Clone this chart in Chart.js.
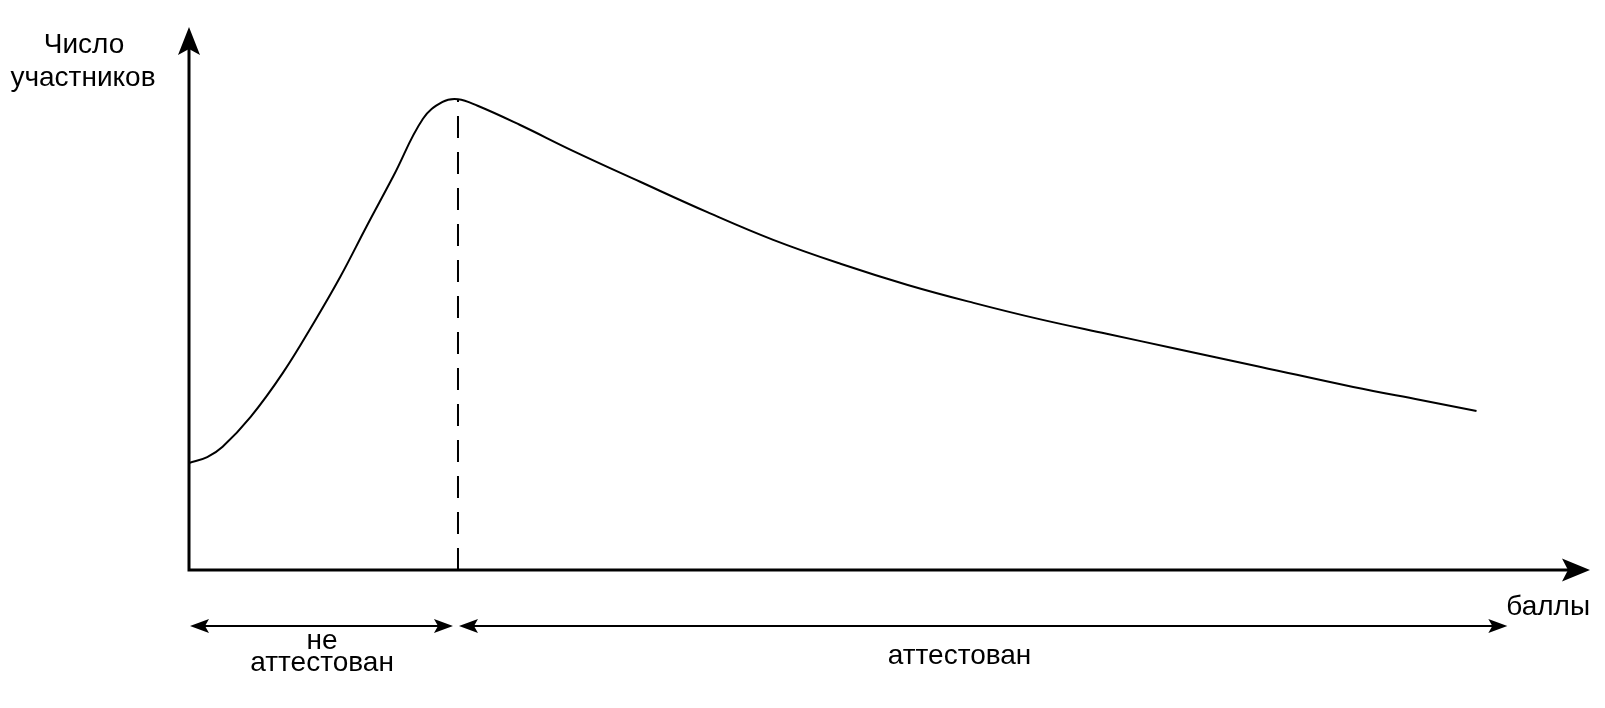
<!DOCTYPE html>
<html>
<head>
<meta charset="utf-8">
<script src="https://cdn.jsdelivr.net/npm/chart.js@4"></script>
<style>
  html, body { margin: 0; padding: 0; background: #fff; }
  #wrap { width: 1605px; height: 708px; position: relative; }
</style>
</head>
<body>
<div id="wrap"><canvas id="grafico"></canvas></div>
<script>
// Datos (unidades arbitrarias)
const scores = [0, 1.3, 2.4, 4.4, 6.7, 8.9, 10.8, 12.7, 14.6, 16.7, 18.1, 19.2, 20.6, 23.6, 27.4, 32.2, 37.0, 41.7, 46.5, 51.3, 56.0, 60.7, 65.5, 70.2, 76.5, 83.1, 87.9, 91.9];
const participants = [19.7, 20.8, 22.7, 28.2, 36.3, 45.5, 54.0, 63.4, 72.6, 83.1, 86.2, 86.7, 85.5, 82.0, 77.2, 71.5, 65.9, 60.8, 56.4, 52.5, 49.2, 46.2, 43.5, 40.9, 37.4, 33.7, 31.3, 29.3];

const passMark = 19.2;      // порог аттестации
const peakValue = 86.7;
const zoneStarts = [0, 19.2];
const zoneEnds = [19.2, 94.1];
const zoneLabelAt = [9.5, 55.0];
const zoneLabels = [["не", "аттестован"], ["аттестован"]];

const yTitle = ["Число", "участников"];
const xTitle = "баллы";

const FONT = "28px 'Liberation Sans', Arial, sans-serif";

// Punta de flecha
function arrowHead(ctx, tipX, tipY, dx, dy, len, half, notch) {
  const bx = tipX - dx * len, by = tipY - dy * len;
  const px = -dy, py = dx;
  ctx.beginPath();
  ctx.moveTo(tipX, tipY);
  ctx.lineTo(bx + px * half, by + py * half);
  ctx.lineTo(tipX - dx * (len - notch), tipY - dy * (len - notch));
  ctx.lineTo(bx - px * half, by - py * half);
  ctx.closePath();
  ctx.fill();
}

const decor = {
  id: "decor",
  afterDraw(chart) {
    const ctx = chart.ctx;
    const a = chart.chartArea;
    const xs = chart.scales.x;
    ctx.save();
    ctx.fillStyle = "#000";
    ctx.strokeStyle = "#000";

    // Ejes
    ctx.lineWidth = 3;
    ctx.beginPath();
    ctx.moveTo(a.left, a.bottom + 1.5);
    ctx.lineTo(a.left, a.top + 22);
    ctx.moveTo(a.left - 1.5, a.bottom);
    ctx.lineTo(a.right - 22, a.bottom);
    ctx.stroke();
    arrowHead(ctx, a.left, a.top, 0, -1, 28, 11, 6);
    arrowHead(ctx, a.right, a.bottom, 1, 0, 28, 11.5, 6);

    // Títulos de ejes
    ctx.font = FONT;
    ctx.textBaseline = "alphabetic";
    ctx.textAlign = "center";
    ctx.fillText(yTitle[0], 84, 53);
    ctx.fillText(yTitle[1], 83, 86);
    ctx.textAlign = "right";
    ctx.fillText(xTitle, a.right, a.bottom + 45);

    // Zonas
    const yArrow = a.bottom + 56;
    ctx.lineWidth = 2;
    ctx.textAlign = "center";
    zoneStarts.forEach((s, i) => {
      const x1 = xs.getPixelForValue(s) + 1;
      const x2 = xs.getPixelForValue(zoneEnds[i]) - (i === 0 ? 5 : 0);
      ctx.beginPath();
      ctx.moveTo(x1 + 10, yArrow);
      ctx.lineTo(x2 - 10, yArrow);
      ctx.stroke();
      arrowHead(ctx, x1, yArrow, -1, 0, 19, 7, 4);
      arrowHead(ctx, x2, yArrow, 1, 0, 19, 7, 4);
      const cx = xs.getPixelForValue(zoneLabelAt[i]);
      const lines = zoneLabels[i];
      if (lines.length === 2) {
        ctx.fillText(lines[0], cx, yArrow + 23);
        ctx.fillText(lines[1], cx, yArrow + 45);
      } else {
        ctx.fillText(lines[0], cx, yArrow + 38);
      }
    });
    ctx.restore();
  }
};

new Chart(document.getElementById("grafico"), {
  type: "line",
  data: {
    datasets: [
      {
        data: scores.map((s, i) => ({ x: s, y: participants[i] })),
        borderColor: "#000",
        borderWidth: 2,
        pointRadius: 0,
        tension: 0.4,
        fill: false
      },
      {
        data: [{ x: passMark, y: 0 }, { x: passMark, y: peakValue }],
        borderColor: "#000",
        borderWidth: 2,
        borderDash: [22, 14],
        pointRadius: 0,
        fill: false
      }
    ]
  },
  options: {
    responsive: true,
    maintainAspectRatio: false,
    animation: false,
    layout: { padding: { left: 189, right: 15, top: 27, bottom: 138 } },
    plugins: { legend: { display: false }, tooltip: { enabled: false } },
    scales: {
      x: { type: "linear", min: 0, max: 100, display: false },
      y: { min: 0, max: 100, display: false }
    }
  },
  plugins: [decor]
});
</script>
</body>
</html>
